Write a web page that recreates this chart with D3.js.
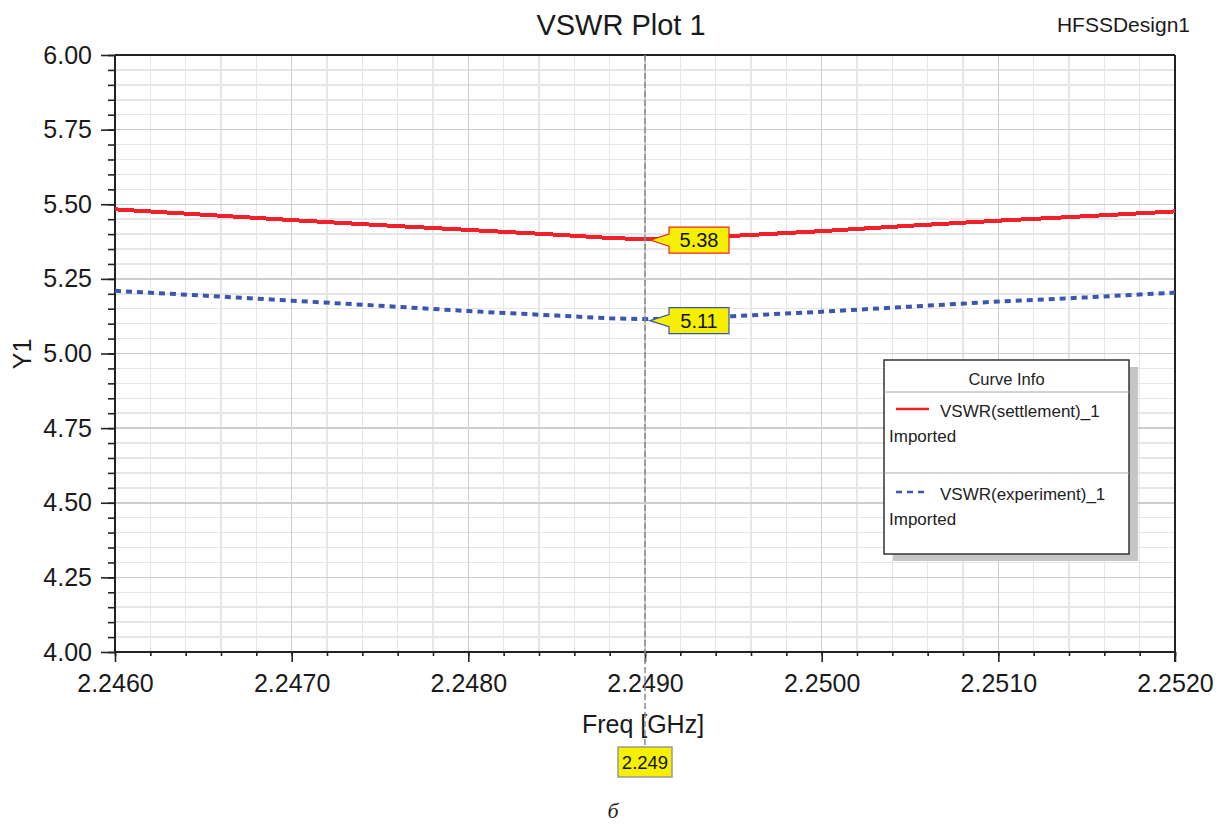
<!DOCTYPE html>
<html>
<head>
<meta charset="utf-8">
<script src="https://cdn.jsdelivr.net/npm/d3@7"></script>
<style>
  html, body { margin: 0; padding: 0; background: #fff; }
  svg { display: block; font-family: "Liberation Sans", Arial, sans-serif; }
</style>
</head>
<body>
<svg id="chart" width="1225" height="826"></svg>
<script>
// VSWR traces (frequency in GHz)
const freqSettlement = [2.2460, 2.2465, 2.2470, 2.2475, 2.2480, 2.2485, 2.2488, 2.2490, 2.2492, 2.2495, 2.2500, 2.2505, 2.2510, 2.2515, 2.2520];
const vswrSettlement = [5.483, 5.465, 5.447, 5.430, 5.414, 5.398, 5.387, 5.383, 5.385, 5.394, 5.410, 5.428, 5.445, 5.460, 5.476];

const freqExperiment = [2.2460, 2.2465, 2.2470, 2.2475, 2.2480, 2.2485, 2.2488, 2.2490, 2.2492, 2.2495, 2.2500, 2.2505, 2.2510, 2.2515, 2.2520];
const vswrExperiment = [5.210, 5.194, 5.177, 5.160, 5.142, 5.127, 5.118, 5.115, 5.117, 5.125, 5.140, 5.157, 5.174, 5.188, 5.204];

const xTickValues = [2.246, 2.247, 2.248, 2.249, 2.250, 2.251, 2.252];
const yTickValues = [4.00, 4.25, 4.50, 4.75, 5.00, 5.25, 5.50, 5.75, 6.00];

// marker readouts
const markerFreq = 2.249;
const markerLabels = ["2.249"];
const markerSettlement = 5.38;
const markerExperiment = 5.11;

const seriesNames = ["VSWR(settlement)_1", "VSWR(experiment)_1"];
const seriesSource = "Imported";

const svg = d3.select("#chart");
const L = 115, R = 1175, T = 55, B = 652;

const x = d3.scaleLinear().domain([2.246, 2.252]).range([L, R]);
const y = d3.scaleLinear().domain([4, 6]).range([B, T]);

const RED = "#f0212b", BLUE = "#3a56b2";

// grid
const minorX = d3.range(0, 31).map(i => 2.246 + i * 0.0002);
const minorY = d3.range(0, 41).map(i => 4 + i * 0.05);
const grid = svg.append("g").attr("shape-rendering", "crispEdges");
grid.selectAll(".mx").data(minorX).join("line")
  .attr("x1", d => x(d)).attr("x2", d => x(d)).attr("y1", T).attr("y2", B)
  .attr("stroke", "#e6e6e6").attr("stroke-width", 1.5);
grid.selectAll(".my").data(minorY).join("line")
  .attr("y1", d => y(d)).attr("y2", d => y(d)).attr("x1", L).attr("x2", R)
  .attr("stroke", "#e6e6e6").attr("stroke-width", 1.5);
grid.selectAll(".Mx").data(xTickValues).join("line")
  .attr("x1", d => x(d)).attr("x2", d => x(d)).attr("y1", T).attr("y2", B)
  .attr("stroke", "#cdcdcd").attr("stroke-width", 1.5);
grid.selectAll(".My").data(yTickValues).join("line")
  .attr("y1", d => y(d)).attr("y2", d => y(d)).attr("x1", L).attr("x2", R)
  .attr("stroke", "#cdcdcd").attr("stroke-width", 1.5);

// axes
const yAxisMinor = d3.axisLeft(y).tickValues(minorY).tickSize(7).tickFormat("");
const yAxisMajor = d3.axisLeft(y).tickValues(yTickValues).tickSize(14).tickPadding(9).tickFormat(d3.format(".2f"));
const xAxisMinor = d3.axisBottom(x).tickValues(minorX).tickSize(4).tickFormat("");
const xAxisMajor = d3.axisBottom(x).tickValues(xTickValues).tickSize(10).tickPadding(12).tickFormat(d3.format(".4f"));

function styleAxis(g) {
  g.select(".domain").remove();
  g.selectAll(".tick line").attr("stroke", "#222").attr("stroke-width", 1.6);
  g.selectAll("text").attr("fill", "#1a1a1a").attr("font-size", 25)
    .attr("font-family", "Liberation Sans, Arial, sans-serif");
}
svg.append("g").attr("transform", `translate(${L},0)`).call(yAxisMinor).call(styleAxis);
svg.append("g").attr("transform", `translate(${L},0)`).call(yAxisMajor).call(styleAxis);
svg.append("g").attr("transform", `translate(0,${B})`).call(xAxisMinor).call(styleAxis);
svg.append("g").attr("transform", `translate(0,${B})`).call(xAxisMajor).call(styleAxis);

// frame
const frame = svg.append("g").attr("stroke", "#222").attr("stroke-width", 1.8).attr("shape-rendering", "crispEdges");
frame.append("line").attr("x1", L).attr("x2", L).attr("y1", T).attr("y2", B);
frame.append("line").attr("x1", L).attr("x2", R).attr("y1", B).attr("y2", B);
frame.append("line").attr("x1", L).attr("x2", R).attr("y1", T).attr("y2", T);
frame.append("line").attr("x1", R).attr("x2", R).attr("y1", T).attr("y2", B + 10);

// curves
const line = d3.line().x(d => x(d[0])).y(d => y(d[1]));
svg.append("path")
  .datum(d3.zip(freqSettlement, vswrSettlement))
  .attr("d", line).attr("fill", "none").attr("stroke", RED).attr("stroke-width", 4)
  .attr("shape-rendering", "crispEdges");
svg.append("path")
  .datum(d3.zip(freqExperiment, vswrExperiment))
  .attr("d", line).attr("fill", "none").attr("stroke", BLUE).attr("stroke-width", 4)
  .attr("stroke-dasharray", "6,5");

// titles
svg.append("text").attr("x", 621).attr("y", 35).attr("text-anchor", "middle")
  .attr("font-size", 29).attr("fill", "#1a1a1a").text("VSWR Plot 1");
svg.append("text").attr("x", 1190).attr("y", 32).attr("text-anchor", "end")
  .attr("font-size", 21).attr("fill", "#1a1a1a").text("HFSSDesign1");
svg.append("text").attr("transform", "translate(31,354) rotate(-90)").attr("text-anchor", "middle")
  .attr("font-size", 25).attr("fill", "#1a1a1a").text("Y1");
svg.append("text").attr("x", 643).attr("y", 733).attr("text-anchor", "middle")
  .attr("font-size", 25).attr("fill", "#1a1a1a").text("Freq [GHz]");

// legend
const lg = svg.append("g");
const lx = 884, ly = 360, lw = 245, lh = 194;
lg.append("rect").attr("x", lx + 9).attr("y", ly + 7).attr("width", lw).attr("height", lh).attr("fill", "#c6c6c6");
lg.append("rect").attr("x", lx).attr("y", ly).attr("width", lw).attr("height", lh)
  .attr("fill", "#fff").attr("stroke", "#333").attr("stroke-width", 1.5);
lg.append("line").attr("x1", lx).attr("x2", lx + lw).attr("y1", 392).attr("y2", 392).attr("stroke", "#aaa").attr("stroke-width", 1.2);
lg.append("line").attr("x1", lx).attr("x2", lx + lw).attr("y1", 473).attr("y2", 473).attr("stroke", "#aaa").attr("stroke-width", 1.2);
lg.append("text").attr("x", lx + lw / 2).attr("y", 385).attr("text-anchor", "middle")
  .attr("font-size", 16.5).attr("fill", "#222").text("Curve Info");
const entries = [
  { name: seriesNames[0], color: RED, dash: null, yy: 409 },
  { name: seriesNames[1], color: BLUE, dash: "6,5", yy: 492 }
];
entries.forEach(e => {
  lg.append("line").attr("x1", 896).attr("x2", 929).attr("y1", e.yy).attr("y2", e.yy)
    .attr("stroke", e.color).attr("stroke-width", 2.5).attr("stroke-dasharray", e.dash);
  lg.append("text").attr("x", 940).attr("y", e.yy + 8).attr("font-size", 17).attr("fill", "#222").text(e.name);
  lg.append("text").attr("x", 889).attr("y", e.yy + 33).attr("font-size", 17).attr("fill", "#222").text(seriesSource);
});

// marker line
const mx = x(markerFreq);
svg.append("line").attr("x1", mx).attr("x2", mx).attr("y1", T).attr("y2", 747)
  .attr("stroke", "#8a8a8a").attr("stroke-width", 1.5).attr("stroke-dasharray", "6,3");

// marker callouts
function callout(value, border) {
  const ty = y(value), tx = mx + 5, bx = tx + 19, bw = 60, bh = 13;
  const pts = [[tx, ty], [bx, ty - 6], [bx, ty - bh], [bx + bw, ty - bh], [bx + bw, ty + bh], [bx, ty + bh], [bx, ty + 6]];
  svg.append("polygon").attr("points", pts.map(p => p.join(",")).join(" "))
    .attr("fill", "#f6f000").attr("stroke", border).attr("stroke-width", 1.2);
  svg.append("text").attr("x", bx + bw / 2).attr("y", ty + 7).attr("text-anchor", "middle")
    .attr("font-size", 20).attr("fill", "#111").text(value.toFixed(2));
}
callout(markerSettlement, RED);
callout(markerExperiment, BLUE);

// frequency readout
svg.append("rect").attr("x", mx - 27).attr("y", 747).attr("width", 54).attr("height", 30)
  .attr("fill", "#f6f000").attr("stroke", "#999").attr("stroke-width", 1.5);
svg.append("text").attr("x", mx).attr("y", 769).attr("text-anchor", "middle")
  .attr("font-size", 18.5).attr("fill", "#111").text(markerLabels[0]);

// panel caption
svg.append("text").attr("x", 613).attr("y", 818).attr("text-anchor", "middle")
  .attr("font-family", "Liberation Serif, Times New Roman, serif").attr("font-style", "italic")
  .attr("font-size", 22).attr("fill", "#222").text("б");
</script>
</body>
</html>
